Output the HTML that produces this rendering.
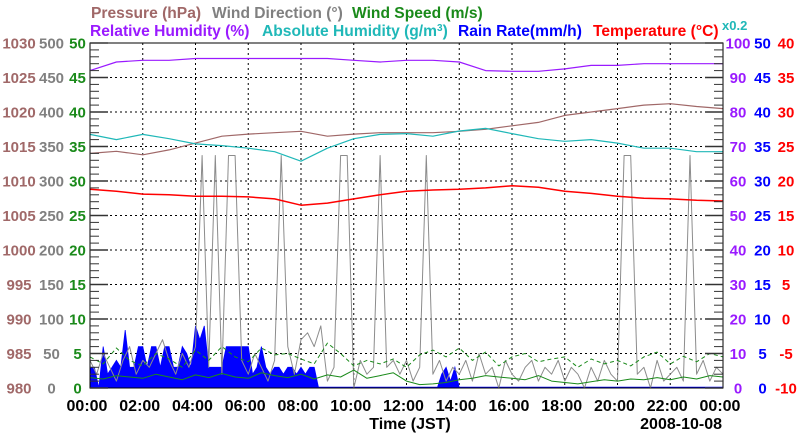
<!DOCTYPE html>
<html><head><meta charset="utf-8"><style>
html,body{margin:0;padding:0;background:#fff;}
svg{display:block;font-family:"Liberation Sans",Arial,sans-serif;}
</style></head><body>
<svg id="chart" width="800" height="434" viewBox="0 0 800 434" xmlns="http://www.w3.org/2000/svg">
<g font-size="15.6" font-weight="bold">
<text x="91" y="18" fill="#a06868">Pressure (hPa)</text>
<text x="212" y="18" fill="#808080">Wind Direction (°)</text>
<text x="352" y="18" fill="#1a8a1a">Wind Speed (m/s)</text>
<text x="90" y="36" fill="#9a1aff">Relative Humidity (%)</text>
<text x="262" y="36" fill="#20b8b8">Absolute Humidity (g/m<tspan dy="-5" font-size="10">3</tspan><tspan dy="5">)</tspan></text>
<text x="458" y="36" fill="#0000ff">Rain Rate(mm/h)</text>
<text x="593" y="36" fill="#ff0000">Temperature (°C)</text>
<text x="722" y="30" fill="#20b8b8" font-size="13">x0.2</text>
</g>
<g id="grid"></g>
<g id="series"></g>
<g id="axes"></g>
<text x="410" y="429" font-size="16" font-weight="bold" text-anchor="middle">Time (JST)</text>
<text x="722" y="429" font-size="16" font-weight="bold" text-anchor="end">2008-10-08</text>
</svg>
<script>
// ---- data ----
const hourTimes = [0,1,2,3,4,5,6,7,8,9,10,11,12,13,14,15,16,17,18,19,20,21,22,23,24];
const pressureVals = [1014,1014.3,1013.8,1014.5,1015.5,1016.5,1016.8,1017,1017.2,1016.5,1016.8,1017,1017,1017,1017.2,1017.5,1018,1018.5,1019.5,1020,1020.5,1021,1021.2,1020.8,1020.5];
const rhVals = [92,94.5,95,95,95.5,95.5,95.5,95.5,95.5,95.5,95,94.5,95,95,94.5,92,91.8,91.8,92.5,93.5,93.5,94,94,94,94];
const ahVals = [14.7,14.4,14.7,14.45,14.15,14.05,13.9,13.7,13.15,13.9,14.45,14.7,14.75,14.6,14.9,15.05,14.75,14.45,14.3,14.4,14.2,13.9,13.9,13.7,13.7];
const tempVals = [18.8,18.5,18.1,18,17.8,17.8,17.7,17.4,16.5,16.8,17.4,18,18.5,18.7,18.8,19,19.3,19.1,18.5,18.2,17.8,17.5,17.4,17.2,17.1];
// wind direction, 15-min samples
const windDirVals = [40,20,50,30,10,40,60,20,40,30,50,70,40,20,50,30,60,337,30,337,20,337,337,40,20,50,30,10,40,337,60,20,70,80,60,90,10,30,337,337,0,40,20,30,337,30,40,20,40,10,30,337,20,40,10,30,20,40,10,50,20,30,0,40,20,10,30,40,10,30,20,40,10,30,20,0,30,10,40,20,10,337,337,20,30,0,40,10,20,30,10,337,20,40,10,30,20];
// wind speed, 30-min samples
const windSpeedVals = [1.5,1.3,1.8,1.6,1.4,2.0,1.6,1.2,1.9,1.5,2.1,1.6,1.4,2.2,1.8,1.5,2.0,1.3,1.9,1.6,2.6,1.4,1.8,2.2,1.0,0.5,0.6,0.8,1.2,1.4,1.8,1.6,1.4,1.2,1.8,1.0,0.8,0.6,0.9,1.2,1.0,1.3,1.2,1.5,1.2,1.6,1.3,1.8,1.6];
const gustVals = [4.5,3.5,5.8,4.0,3.2,5.0,4.2,3.0,5.5,4.0,6.0,4.5,3.8,5.8,4.8,5.0,4.2,3.5,6.5,5.0,3.2,4.0,3.5,4.2,3.0,4.8,5.5,4.5,5.8,4.0,5.2,3.2,4.5,5.0,3.8,4.2,4.5,3.0,4.2,3.5,4.0,3.2,4.5,5.2,3.5,4.6,3.8,5.0,4.5];
// rain rate, 10-min samples from 00:00 to 08:40
const rainVals = [3,3,0,6,2,3,4,3,8.4,3,3,6,6,3,6,6,3,6,6,3,3,6,5,3,9,7,9,3,3,3,3,6,6,6,6,6,6,2,3,6,3,2,3,3,2,3,3,2,3,2,3,3,0];
// rain rate, 10-min samples from 13:10 to 14:00
const rain2Vals = [0,2,3,1,3,0];
const xTickLabels = ["00:00","02:00","04:00","06:00","08:00","10:00","12:00","14:00","16:00","18:00","20:00","22:00","00:00"];
const pressureTicks = ["980","985","990","995","1000","1005","1010","1015","1020","1025","1030"];
const windDirTicks = ["0","50","100","150","200","250","300","350","400","450","500"];
const windSpeedTicks = ["0","5","10","15","20","25","30","35","40","45","50"];
const rhTicks = ["0","10","20","30","40","50","60","70","80","90","100"];
const rainTicks = ["0","5","10","15","20","25","30","35","40","45","50"];
const tempTicks = ["-10","-5","0","5","10","15","20","25","30","35","40"];

// ---- layout ----
const X0=90, X1=723, Y0=388, Y1=43;
const NS="http://www.w3.org/2000/svg";
const xs = h => X0 + h*(X1-X0)/24;
const ys = u => Y0 - u*(Y0-Y1)/50;
const yP = p => ys(p-980);
const yDir = d => ys(d/10);
const yRH = r => ys(r/2);
const yAH = a => ys(a*5/2);
const yT = t => ys(t+10);
function mk(tag, attrs, parent){const e=document.createElementNS(NS,tag);for(const k in attrs)e.setAttribute(k,attrs[k]);parent.appendChild(e);return e;}
const grid=document.getElementById('grid'), series=document.getElementById('series'), axes=document.getElementById('axes');

for(let i=1;i<12;i++){const x=xs(i*2);
 const l=mk('line',{x1:x,x2:x,y1:Y1,y2:Y0,stroke:'#000','stroke-width':1,'stroke-dasharray':'2,3'},grid);
 
 }
for(let i=1;i<10;i++){const y=ys(i*5);
 const l=mk('line',{x1:X0,x2:X1,y1:y,y2:y,stroke:'#000','stroke-width':1,'stroke-dasharray':'2,3'},grid);
 
 }

function pathFrom(times, vals, fx, fy){return times.map((t,i)=>(i?'L':'M')+fx(t).toFixed(1)+','+fy(vals[i]).toFixed(1)).join('');}

function rainArea(start, vals, name){
 const times=vals.map((v,i)=>start+i/6);
 let d='M'+xs(times[0]).toFixed(1)+','+Y0+pathFrom(times,vals,xs,ys).replace(/^M/,'L')+'L'+xs(times[times.length-1]).toFixed(1)+','+Y0+'Z';
 const p=mk('path',{d:d,fill:'#0000ff',stroke:'#0000ff','stroke-width':0.8},series);
 
 
}
rainArea(0,rainVals,'rain-rate-area');
rainArea(13+1/6,rain2Vals,'rain-rate-area-afternoon');
const base=mk('line',{x1:X0,x2:X1,y1:Y0-0.5,y2:Y0-0.5,stroke:'#0000ff','stroke-width':1.5},series);



function line(times, vals, fy, color, w, name, dash){
 const a={d:pathFrom(times,vals,xs,fy),fill:'none',stroke:color,'stroke-width':w,'stroke-linejoin':'round'};
 if(dash)a['stroke-dasharray']=dash;
 const p=mk('path',a,series);
 
 
}
line(windDirVals.map((v,i)=>i/4),windDirVals,yDir,'#8c8c8c',1,'wind-direction-line');
line(gustVals.map((v,i)=>i/2),gustVals,ys,'#1a8a1a',1,'wind-gust-line','4,3');
line(windSpeedVals.map((v,i)=>i/2),windSpeedVals,ys,'#1a8a1a',1,'wind-speed-line');
line(hourTimes,pressureVals,yP,'#a06868',1.2,'pressure-line');
line(hourTimes,ahVals,yAH,'#20b8b8',1.2,'absolute-humidity-line');
line(hourTimes,rhVals,yRH,'#9a1aff',1.2,'relative-humidity-line');
line(hourTimes,tempVals,yT,'#ff0000',1.5,'temperature-line');

const fr=mk('rect',{x:X0,y:Y1,width:X1-X0,height:Y0-Y1,fill:'none',stroke:'#000','stroke-width':1},axes);


for(let u=0;u<=50;u++){const y=ys(u);const maj=u%5===0;const L=maj?18:9;
 const a=mk('line',{x1:X0,x2:X0+L,y1:y,y2:y,stroke:'#333','stroke-width':maj?1.5:1},axes);
 
 
 const b=mk('line',{x1:X1,x2:X1-L,y1:y,y2:y,stroke:'#333','stroke-width':maj?1.5:1},axes);
 
 }
function ylabels(arr,x,color,name){
 arr.forEach((s,i)=>{const t=mk('text',{x:x,y:ys(i*5)+5.5,'font-size':15,'font-weight':'bold','text-anchor':'middle',fill:color},axes);t.textContent=s;
 
 });
}
ylabels(pressureTicks,19,'#a06868','pressure-tick-label');
ylabels(windDirTicks,51.5,'#808080','wind-direction-tick-label');
ylabels(windSpeedTicks,77.5,'#1a8a1a','wind-speed-tick-label');
ylabels(rhTicks,738,'#9a1aff','rh-tick-label');
ylabels(rainTicks,762.5,'#0000ff','rain-rate-tick-label');
ylabels(tempTicks,786,'#ff0000','temperature-tick-label');
xTickLabels.forEach((s,i)=>{const t=mk('text',{x:xs(i*2)-3,y:411,'font-size':16,'font-weight':'bold','text-anchor':'middle',fill:'#000'},axes);t.textContent=s;
 
 });
</script>
</body></html>
